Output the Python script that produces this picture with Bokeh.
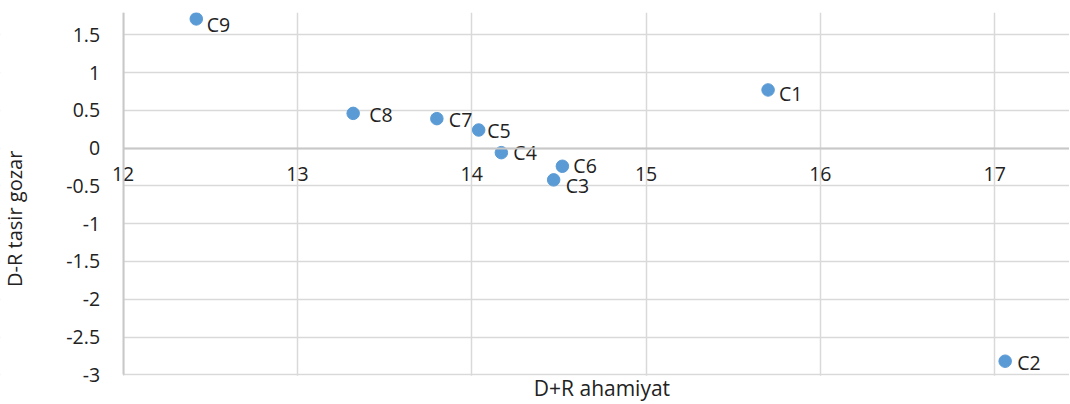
import math
from bokeh.plotting import figure
from bokeh.models import ColumnDataSource, Label, FixedTicker, Range1d, BoxAnnotation
from bokeh.embed import file_html
from bokeh.resources import INLINE
from bokeh.core.properties import value

# ---- data ----
names = ["C1", "C2", "C3", "C4", "C5", "C6", "C7", "C8", "C9"]
d_plus_r = [15.70, 17.06, 14.47, 14.17, 14.04, 14.52, 13.80, 13.32, 12.42]
d_minus_r = [0.77, -2.82, -0.42, -0.06, 0.24, -0.24, 0.39, 0.46, 1.71]
x_ticks = [12, 13, 14, 15, 16, 17]
y_ticks = [-3, -2.5, -2, -1.5, -1, -0.5, 0, 0.5, 1, 1.5]
y_tick_labels = ["-3", "-2.5", "-2", "-1.5", "-1", "-0.5", "0", "0.5", "1", "1.5"]
x_title = "D+R ahamiyat"
y_title = "D-R tasir gozar"

# ---- style (label nudges in screen pixels) ----
label_dx = [11, 12, 12, 12, 8.5, 11, 12, 16, 10.5]
label_dy = [4, 1, 5.5, 0, 1, -1, 0.5, 1, 6]

FONT = "Open Sans"
TXT = "#222222"
GRID = "#d9d9d9"
AXIS = "#c8c8c8"

X0, X1 = 12, 17.429      # plotted axis extent
Y0, Y1 = -3, 1.795

src = ColumnDataSource(dict(x=d_plus_r, y=d_minus_r, name=names,
                            dx=label_dx, dy=label_dy))

p = figure(width=1069, height=404,
           x_range=Range1d(11.297, X1), y_range=Range1d(-3.393, Y1),
           output_backend="svg", toolbar_location=None,
           min_border_left=0, min_border_right=0,
           min_border_top=12, min_border_bottom=0)
p.outline_line_color = None
p.background_fill_color = "white"
p.border_fill_color = "white"

xt = FixedTicker(ticks=x_ticks)
yt = FixedTicker(ticks=y_ticks)

# x axis crossing at y = 0
p.xaxis.ticker = xt
p.xaxis.fixed_location = 0
p.xaxis.bounds = (X0, X1)
p.xaxis.axis_line_color = AXIS
p.xaxis.axis_line_width = 2
p.xaxis.major_tick_line_color = None
p.xaxis.minor_tick_line_color = None
p.xaxis.major_tick_out = 0
p.xaxis.major_tick_in = 0
p.xaxis.major_label_standoff = 19
p.xaxis.major_label_text_font = FONT
p.xaxis.major_label_text_font_size = "19.5px"
p.xaxis.major_label_text_color = TXT

# y axis at x = 12
p.yaxis.ticker = yt
p.yaxis.fixed_location = X0
p.yaxis.bounds = (Y0, Y1)
p.yaxis.major_label_overrides = {t: l for t, l in zip(y_ticks, y_tick_labels)}
p.yaxis.axis_line_color = AXIS
p.yaxis.axis_line_width = 2
p.yaxis.major_tick_line_color = None
p.yaxis.minor_tick_line_color = None
p.yaxis.major_tick_out = 0
p.yaxis.major_tick_in = 0
p.yaxis.major_label_standoff = 23
p.yaxis.major_label_text_font = FONT
p.yaxis.major_label_text_font_size = "19.5px"
p.yaxis.major_label_text_color = TXT

p.xgrid.ticker = xt
p.ygrid.ticker = yt
p.xgrid.grid_line_color = GRID
p.ygrid.grid_line_color = GRID
p.xgrid.grid_line_width = 1.5
p.ygrid.grid_line_width = 1.5

# keep grid lines inside the plot area (x >= 12, y >= -3)
p.add_layout(BoxAnnotation(right=X0, fill_color="white", fill_alpha=1,
                           line_color=None, level="underlay"))
p.add_layout(BoxAnnotation(top=Y0 - 0.012, fill_color="white", fill_alpha=1,
                           line_color=None, level="underlay"))

p.scatter("x", "y", source=src, size=12.5, fill_color="#5b9bd5",
          line_color="#5b9bd5")
p.text("x", "y", text="name", source=src, x_offset="dx", y_offset="dy",
       text_baseline="middle", text_align="left",
       text_font=value(FONT), text_font_size="19.5px", text_color=TXT)

p.add_layout(Label(x=14.747, y=-3.175, text=x_title, text_align="center",
                   text_baseline="alphabetic", text_font=FONT,
                   text_font_size="21px", text_color=TXT))
p.add_layout(Label(x=11.380, y=-0.935, text=y_title, angle=math.pi / 2,
                   text_align="center", text_baseline="alphabetic",
                   text_font=FONT, text_font_size="20px", text_color=TXT))

open("out.html", "w").write(file_html(p, INLINE))
